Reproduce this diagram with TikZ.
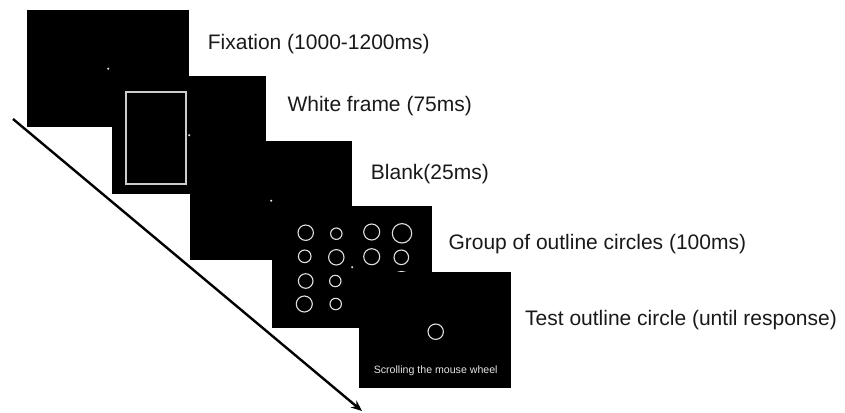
\documentclass[tikz,border=0pt]{standalone}
\usepackage{fontspec}
\setmainfont{Liberation Sans}
\usetikzlibrary{arrows.meta, positioning}

\begin{document}
\begin{tikzpicture}[x=1pt,y=-1pt,
    screen/.style={fill=black, inner sep=0pt, anchor=north west},
    lbl/.style={anchor=base west, inner sep=0pt, text=black!90, font=\fontsize{21}{25}\selectfont},
    dot/.style={circle, fill=white!85!black, inner sep=0pt, minimum size=2.4pt},
    ring/.style={draw=white!88!black, line width=1.1pt}]
    \useasboundingbox (0,0) rectangle (845,412);
    \coordinate (tstart) at (13,119);
    \coordinate (tend) at (362,411);
    \draw[line width=2.4pt, -{Stealth[length=11pt,width=9pt]}] (tstart) -- (tend);

    \node[screen, minimum width=162pt, minimum height=117pt] (fix) at (27,10) {};
    \node[dot] (fixdot) at (fix.center) {};

    \node[screen, minimum width=154pt, minimum height=118pt] (frame) at (112,76) {};
    \node[draw=white!80!black, line width=1.2pt, inner sep=0pt, minimum width=60pt, minimum height=92pt] (wframe) at (156,138) {};
    \node[dot] (framedot) at (frame.center) {};

    \node[screen, minimum width=162pt, minimum height=119pt] (blank) at (190,141) {};
    \node[dot] (blankdot) at (blank.center) {};

    \node[screen, minimum width=160pt, minimum height=122pt] (group) at (272,206) {};
    \node[dot] (groupdot) at (group.center) {};
    \foreach \cx/\cy/\r in {305.7/232.7/7.7, 336.3/233.7/5.7, 371.7/232/8, 402/233.3/9.7,
        304.7/256.3/6.3, 336.3/257.3/7.7, 371.7/256.7/8, 401.3/257.3/7.3,
        305.7/281/7.3, 335.3/281/5.7, 401.5/281/9.5,
        304.3/304/8, 335.7/304/5.7}{
        \draw[ring] (\cx,\cy) circle[radius=\r];
    }

    \node[screen, minimum width=152pt, minimum height=116pt] (test) at (359,272) {};
    \draw[ring] (435.7,331.7) circle[radius=7.7];
    \node[text=white!90!black, font=\fontsize{10.6}{12}\selectfont] (wheel) at (435.7,370.7) {Scrolling the mouse wheel};

    \node[lbl] (fixlbl) at (207.7,49.3) {Fixation (1000-1200ms)};
    \node[lbl] (framelbl) at (287.3,111.7) {White frame (75ms)};
    \node[lbl] (blanklbl) at (370.7,179.3) {Blank(25ms)};
    \node[lbl] (grouplbl) at (448.3,249.3) {Group of outline circles (100ms)};
    \node[lbl] (testlbl) at (525,325) {Test outline circle (until response)};
\end{tikzpicture}
\end{document}
